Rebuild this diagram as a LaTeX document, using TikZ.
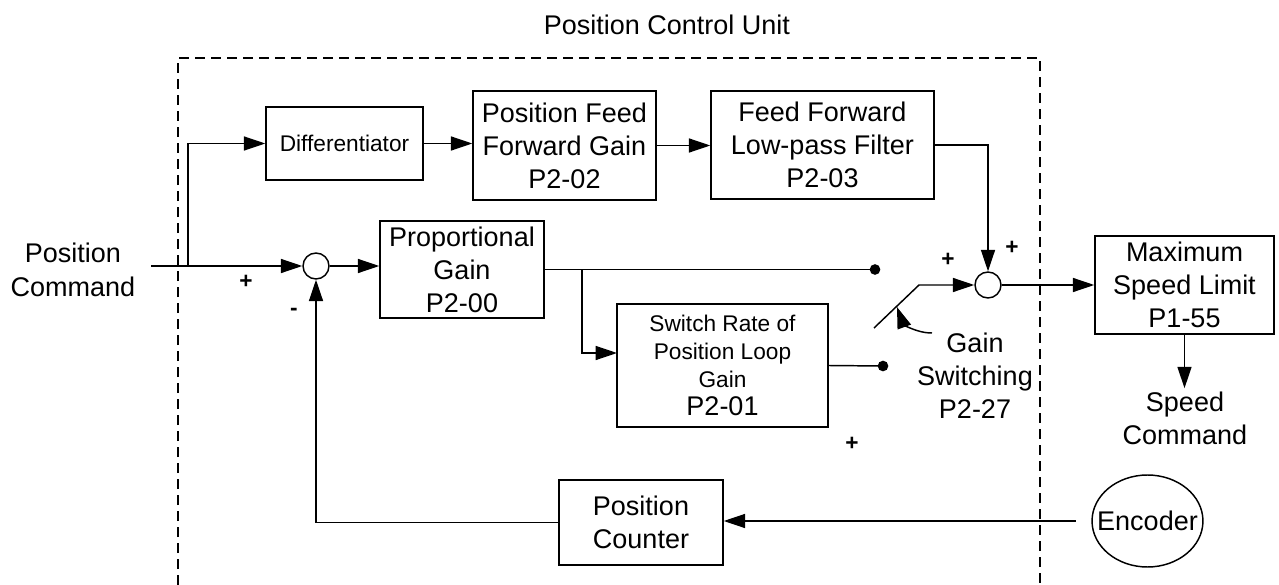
\documentclass[tikz,border=0pt]{standalone}
\usepackage{fontspec}
\setmainfont{Liberation Sans}
\usetikzlibrary{arrows.meta,shapes.geometric,calc}
\newcommand\mainf{\fontsize{20.25}{24.75}\selectfont}
\newcommand\smallf{\fontsize{17}{21}\selectfont}
\newcommand\signf{\fontsize{17}{20}\selectfont\bfseries}
\begin{document}
\begin{tikzpicture}[x=0.75pt,y=-0.75pt,
  line width=1.1pt,
  >={Triangle[length=16pt,width=10.5pt]},
  blk/.style={draw,rectangle,align=center,inner sep=0pt,font=\mainf},
  sumc/.style={draw,circle,minimum size=19.5pt,inner sep=0pt},
  txt/.style={align=center,inner sep=0pt,font=\mainf},
  sgn/.style={inner sep=0pt,font=\signf},
  dotc/.style={fill,circle,inner sep=0pt,minimum size=8pt},
  unitbox/.style={dash pattern=on 7.5pt off 4.5pt,line width=0.9pt}]
\useasboundingbox (0,0) rectangle (1279,585);

% dashed unit boundary
\draw[unitbox] (178,585) -- (178,58) -- (1040,58) -- (1040,585);
\node[txt] (title) at (667,25) {Position Control Unit};

% blocks
\node[blk,font=\smallf,minimum width=117.75pt,minimum height=54.75pt] (diff) at (344.5,143.5) {Differentiator};
\node[blk,minimum width=137.25pt,minimum height=81.75pt] (pffg) at (564.5,145.5) {Position Feed\\Forward Gain\\P2-02};
\node[blk,minimum width=167.25pt,minimum height=81pt] (fflpf) at (822.5,145) {Feed Forward\\Low-pass Filter\\P2-03};
\node[blk,minimum width=123pt,minimum height=72.75pt] (pg) at (462,269.5) {Proportional\\Gain\\P2-00};
\node[blk,font=\smallf,minimum width=158.25pt,minimum height=92.25pt] (sr) at (722.5,365.5) {Switch Rate of\\Position Loop\\Gain\\{\mainf P2-01}};
\node[blk,minimum width=134.25pt,minimum height=73.5pt] (max) at (1184.5,285) {Maximum\\Speed Limit\\P1-55};
\node[blk,minimum width=123pt,minimum height=63.75pt] (pc) at (641,522.5) {Position\\Counter};
\node[ellipse,minimum width=83.25pt,minimum height=69pt,inner sep=0pt,font=\mainf] (enc) at (1147.5,521) {Encoder};
\draw (enc.center) ellipse [x radius=41.6pt, y radius=34.5pt];

\node[sumc] (s1) at (316,266) {};
\node[sumc] (s2) at (988,285) {};

% texts
\node[txt,font=\fontsize{20.25}{25.5}\selectfont] (pcmd) at (73,270) {Position\\Command};
\node[txt,inner sep=2pt] (sc) at (1185,418) {Speed\\Command};
\node[txt] (gs) at (975,376) {Gain\\Switching\\P2-27};

\node[sgn] (p1) at (246,282) {+};
\node[sgn] (m1) at (294,312) {-};
\node[sgn] (p2) at (948,260) {+};
\node[sgn] (p3) at (1012,248) {+};
\node[sgn] (p4) at (852,444) {+};

% coordinates
\coordinate (in) at (151,266);
\coordinate (br) at (188,266);
\coordinate (b2) at (582,269.5);
\coordinate (srin) at (617,353);
\node[dotc] (d1) at (875,269.5) {};
\node[dotc] (d2) at (883,366) {};
\coordinate (sw0) at (874,328);
\coordinate (sw1) at (919,285);
\coordinate (ca0) at (932,333);
\coordinate (ca1) at (897,307);

% connectors
\draw[->] (in) -- (s1.west);
\draw[->] (br) |- (diff.west);
\draw[->] (diff.east) -- (diff.east -| pffg.west);
\draw[->] (pffg.east) -- (pffg.east -| fflpf.west);
\draw[->] (fflpf.east) -| (s2.north);
\draw[->] (s1.east) -- (s1.east -| pg.west);
\draw (pg.east) -- (d1.center);
\draw[->] (b2) |- (srin);
\draw (sr.east) -- (d2.center);
\draw[->] (sw0) -- (sw1) -- (s2.west);
\draw[->] (ca0) to[out=180,in=-70] (ca1);
\draw[->] (s2.east) -- (max.west);
\draw[->] (max.south) -- (max.south |- sc.north);
\draw[->] (enc.west) -- (enc.west -| pc.east);
\draw[->] (pc.west) -| (s1.south);
\end{tikzpicture}
\end{document}
